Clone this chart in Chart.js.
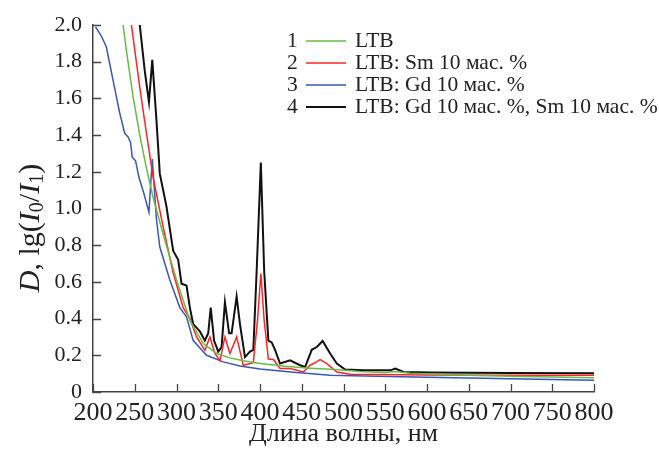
<!DOCTYPE html>
<html>
<head>
<meta charset="utf-8">
<script src="https://cdn.jsdelivr.net/npm/chart.js@4.4.1/dist/chart.umd.min.js"></script>
<style>
  body { margin: 0; background: #fff; }
  #wrap { width: 659px; height: 450px; }
</style>
</head>
<body>
<div id="wrap"><canvas id="myChart" width="659" height="450"></canvas></div>
<script>
// spectra (wavelength, nm / optical density D)
const labels = ["LTB", "LTB: Sm 10 мас. %", "LTB: Gd 10 мас. %", "LTB: Gd 10 мас. %, Sm 10 мас. %"];
const numbers = ["1", "2", "3", "4"];
const colors = ["#66bb44", "#ff2424", "#3a56b8", "#111111"];

const wlLTB = [236, 240, 248, 256, 264, 272, 284, 300, 316, 332, 348, 364, 380, 400, 430, 460, 490, 520, 550, 562, 580, 620, 660, 700, 750, 800];
const dLTB  = [2.0, 1.86, 1.61, 1.40, 1.22, 1.06, 0.86, 0.61, 0.39, 0.264, 0.21, 0.186, 0.17, 0.155, 0.14, 0.13, 0.122, 0.112, 0.106, 0.112, 0.102, 0.096, 0.09, 0.086, 0.082, 0.078];

const wlSm = [246, 256, 264, 272, 284, 296, 308, 316, 324, 334, 340, 346, 352, 358, 364, 372, 380, 392, 397, 401, 405, 410, 416, 424, 436, 452, 460, 466, 472, 480, 492, 508, 540, 600, 700, 800];
const dSm  = [2.0, 1.66, 1.41, 1.17, 0.90, 0.65, 0.46, 0.40, 0.30, 0.227, 0.30, 0.21, 0.17, 0.30, 0.21, 0.30, 0.146, 0.16, 0.39, 0.646, 0.39, 0.18, 0.177, 0.128, 0.128, 0.109, 0.146, 0.16, 0.177, 0.155, 0.109, 0.097, 0.095, 0.092, 0.091, 0.091];

const wlGd = [203, 210, 216, 224, 232, 238, 242, 245, 247, 251, 255, 261, 267, 271, 276, 280, 292, 304, 312, 320, 336, 356, 376, 400, 440, 484, 540, 600, 700, 800];
const dGd  = [1.99, 1.94, 1.88, 1.70, 1.52, 1.41, 1.39, 1.36, 1.28, 1.26, 1.17, 1.08, 0.98, 1.27, 0.94, 0.79, 0.61, 0.46, 0.41, 0.28, 0.20, 0.164, 0.142, 0.125, 0.107, 0.091, 0.086, 0.080, 0.072, 0.064];

const wlGdSm = [256, 262, 267, 271, 276, 280, 288, 296, 302, 306, 312, 316, 320, 328, 334, 338, 341, 345, 350, 354, 358, 363, 366, 372, 376, 382, 388, 392, 396, 401, 405, 410, 414, 418, 424, 436, 448, 454, 462, 468, 475, 484, 492, 502, 524, 556, 562, 572, 604, 700, 800];
const dGdSm  = [2.0, 1.75, 1.58, 1.81, 1.48, 1.19, 1.01, 0.77, 0.72, 0.59, 0.58, 0.46, 0.37, 0.33, 0.28, 0.32, 0.46, 0.28, 0.22, 0.245, 0.49, 0.32, 0.32, 0.52, 0.37, 0.19, 0.22, 0.23, 0.66, 1.25, 0.66, 0.28, 0.27, 0.23, 0.155, 0.173, 0.146, 0.136, 0.23, 0.245, 0.278, 0.21, 0.155, 0.122, 0.118, 0.118, 0.128, 0.109, 0.106, 0.104, 0.102];

const xTicks = [200, 250, 300, 350, 400, 450, 500, 550, 600, 650, 700, 750, 800];
const yTicks = [0, 0.2, 0.4, 0.6, 0.8, 1.0, 1.2, 1.4, 1.6, 1.8, 2.0];

function pts(wl, d) {
  return wl.map((x, i) => ({ x: x, y: d[i] }));
}

const serif = "'Liberation Serif', 'DejaVu Serif', serif";

// inward tick marks, since chart.js only draws them outside
const innerTicks = {
  id: "innerTicks",
  afterDraw(chart) {
    const ctx = chart.ctx;
    const xs = chart.scales.x, ys = chart.scales.y;
    const a = chart.chartArea;
    ctx.save();
    ctx.strokeStyle = "#444";
    ctx.lineWidth = 1.3;
    ctx.beginPath();
    xTicks.forEach(v => {
      const px = Math.round(xs.getPixelForValue(v)) + 0.5;
      ctx.moveTo(px, a.bottom);
      ctx.lineTo(px, a.bottom - 8);
    });
    yTicks.forEach(v => {
      const py = Math.round(ys.getPixelForValue(v)) + 0.5;
      ctx.moveTo(a.left, py);
      ctx.lineTo(a.left + 8, py);
    });
    ctx.stroke();
    ctx.restore();
  }
};

// legend with the curve numbers in front
const numLegend = {
  id: "numLegend",
  afterDraw(chart) {
    const ctx = chart.ctx;
    const rows = [41, 63, 85, 107];
    ctx.save();
    ctx.font = "21.5px " + serif;
    ctx.textBaseline = "middle";
    ctx.fillStyle = "#222";
    chart.data.datasets.forEach((ds, i) => {
      const y = rows[i];
      ctx.textAlign = "left";
      ctx.fillText(numbers[i], 287, y);
      ctx.strokeStyle = ds.borderColor;
      ctx.lineWidth = ds.borderWidth;
      ctx.beginPath();
      ctx.moveTo(306, y);
      ctx.lineTo(346, y);
      ctx.stroke();
      ctx.fillText(ds.label, 355, y);
    });
    ctx.restore();
  }
};

// y axis title: D, lg(I0/I1) with italics and subscripts
const yTitle = {
  id: "yTitle",
  afterDraw(chart) {
    const ctx = chart.ctx;
    const size = 30;
    const parts = [
      { t: "D", it: true },
      { t: ", lg(", it: false },
      { t: "I", it: true },
      { t: "0", sub: true },
      { t: "/", it: false },
      { t: "I", it: true },
      { t: "1", sub: true },
      { t: ")", it: false }
    ];
    function font(p) {
      return (p.it ? "italic " : "") + (p.sub ? Math.round(size * 0.66) : size) + "px " + serif;
    }
    ctx.save();
    let total = 0;
    parts.forEach(p => { ctx.font = font(p); p.w = ctx.measureText(p.t).width; total += p.w; });
    ctx.translate(31, 228);
    ctx.rotate(-Math.PI / 2);
    ctx.fillStyle = "#222";
    ctx.textBaseline = "middle";
    ctx.textAlign = "left";
    let x = -total / 2;
    parts.forEach(p => {
      ctx.font = font(p);
      ctx.fillText(p.t, x, p.sub ? 7 : 0);
      x += p.w;
    });
    ctx.restore();
  }
};

new Chart("myChart", {
  type: "line",
  data: {
    datasets: [
      { label: labels[0], data: pts(wlLTB, dLTB), borderColor: colors[0], borderWidth: 1.5 },
      { label: labels[1], data: pts(wlSm, dSm), borderColor: colors[1], borderWidth: 1.5 },
      { label: labels[2], data: pts(wlGd, dGd), borderColor: colors[2], borderWidth: 1.5 },
      { label: labels[3], data: pts(wlGdSm, dGdSm), borderColor: colors[3], borderWidth: 2 }
    ]
  },
  options: {
    responsive: false,
    animation: false,
    elements: { point: { radius: 0 }, line: { tension: 0, fill: false } },
    layout: { padding: { left: 0, right: 65, top: 25, bottom: 0 } },
    plugins: { legend: { display: false }, tooltip: { enabled: false } },
    scales: {
      x: {
        type: "linear",
        min: 200, max: 800,
        afterFit: s => { s.height = 58; },
        afterBuildTicks: s => { s.ticks = xTicks.map(v => ({ value: v })); },
        grid: { drawOnChartArea: false, drawTicks: false },
        border: { display: true, color: "#444", width: 1.5 },
        ticks: { autoSkip: false, maxRotation: 0, padding: 6, color: "#222", font: { family: serif, size: 26 } },
        title: { display: true, text: "Длина волны, нм", color: "#222", font: { family: serif, size: 26 }, padding: { top: 0, bottom: 0 } }
      },
      y: {
        min: 0, max: 2,
        afterFit: s => { s.width = 93; },
        afterBuildTicks: s => { s.ticks = yTicks.map(v => ({ value: v })); },
        grid: { drawOnChartArea: false, drawTicks: false },
        border: { display: true, color: "#444", width: 1.5 },
        ticks: {
          padding: 11, color: "#222", font: { family: serif, size: 22 },
          callback: v => v === 0 ? "0" : v.toFixed(1)
        }
      }
    }
  },
  plugins: [innerTicks, numLegend, yTitle]
});
</script>
</body>
</html>
